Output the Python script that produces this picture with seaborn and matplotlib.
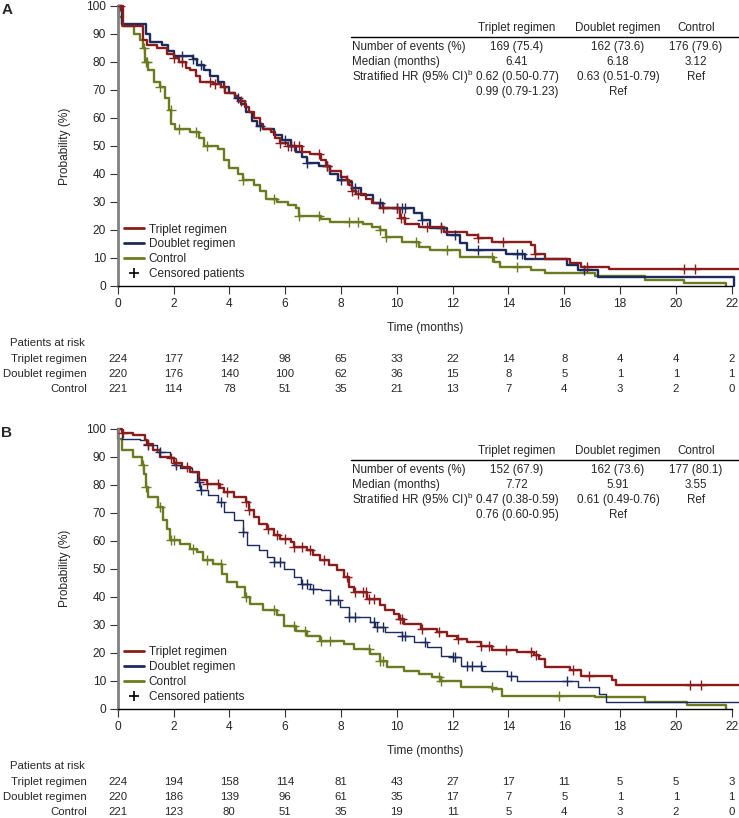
import numpy as np
import pandas as pd
import matplotlib
matplotlib.use('Agg')
import matplotlib.pyplot as plt
import seaborn as sns
from matplotlib.lines import Line2D
from matplotlib.transforms import blended_transform_factory

sns.set_style('ticks')
plt.rcParams['font.family'] = ['Liberation Sans', 'DejaVu Sans']
plt.rcParams['mathtext.fontset'] = 'custom'
plt.rcParams['mathtext.rm'] = 'Liberation Sans'

groups = ['Triplet regimen', 'Doublet regimen', 'Control']
colors = {'Triplet regimen': '#8a1c1c', 'Doublet regimen': '#1d2b5c', 'Control': '#6b7b20'}
risk_times = list(range(0, 23, 2))

# ---- Panel A: step curves (time in months, survival %)
a_trip_t = [0, 0.2, 0.92, 1.05, 1.4, 1.75, 2.0, 2.2, 2.45, 2.6, 2.8, 2.95, 3.4, 3.7, 3.85, 4.2, 4.3, 4.55, 4.7,
            4.9, 5.1, 5.2, 5.5, 5.65, 5.8, 6.1, 6.6, 6.9, 7.3, 7.45, 7.6, 8.0, 8.2, 8.3, 8.4, 8.55, 8.9, 9.1,
            9.39, 10.1, 10.3, 10.8, 11.7, 12.5, 12.9, 13.4, 14.8, 14.95, 15.3, 16.2, 16.6, 17.6, 22.25]
a_trip_s = [100, 93, 88, 86, 85, 83, 81.5, 80, 78, 77, 75, 73, 72, 71, 69, 68, 66, 64, 62,
            60, 58, 56, 55, 53, 51, 50, 48, 47, 45, 43, 41, 39, 38, 36, 34, 33, 31, 29.5,
            27.7, 24.2, 22.2, 21, 19.4, 18.2, 17, 15.8, 14.6, 11.6, 9.5, 8.1, 6.9, 5.9, 5.9]
a_doub_t = [0, 0.15, 1.0, 1.15, 1.6, 1.8, 2.0, 2.7, 2.85, 3.1, 3.3, 3.6, 3.8, 4.0, 4.2, 4.4, 4.6, 4.8, 5.0,
            5.2, 5.6, 5.9, 6.2, 6.4, 6.6, 6.8, 7.2, 7.6, 7.9, 8.3, 8.4, 8.7, 9.15, 9.5, 10.6, 10.9, 11.2,
            11.8, 12.25, 12.5, 13.9, 14.6, 16.1, 16.5, 17.2, 22.1]
a_doub_s = [100, 93.5, 90, 87, 86, 84, 82, 81, 79, 77, 75, 73, 71, 69, 67, 65, 62, 59, 57,
            56, 54, 52, 50, 48, 46, 44, 43, 40, 38, 37, 35, 32.5, 29.5, 27.7, 26, 23.6, 20.6,
            18.2, 15.2, 12.9, 11.6, 9.5, 7.5, 5.7, 3.1, 0]
a_ctrl_t = [0, 0.03, 0.15, 0.6, 0.8, 0.9, 0.97, 1.1, 1.3, 1.5, 1.7, 1.85, 1.92, 2.05, 2.6, 2.9, 3.1, 3.6, 3.8,
            4.0, 4.3, 4.5, 4.9, 5.1, 5.3, 5.7, 6.1, 6.4, 6.5, 7.3, 7.6, 8.8, 9.1, 9.4, 9.6, 10.2, 10.8,
            11.2, 12.25, 13.5, 13.7, 14.8, 15.3, 17.1, 18.9, 20.3, 21.8]
a_ctrl_s = [100, 96, 93, 90, 88, 85, 80, 77, 73, 71, 67, 63, 58, 56, 55, 53, 50, 49, 45,
            42, 40, 38, 36, 34, 31, 30, 29, 28, 25, 24, 23, 22, 21, 20, 17.4, 15.8, 14.1,
            12.9, 10.5, 8.7, 6.9, 5.7, 4.5, 3.6, 2.2, 1.2, 0]

# censoring times (months)
a_trip_c = [0.1, 2.0, 2.3, 3.3, 3.5, 3.8, 4.4, 5.8, 6.1, 6.3, 6.5, 7.2, 7.5, 8.2, 8.4, 8.6, 9.5, 10.0,
            10.15, 10.25, 11.1, 11.6, 12.9, 13.8, 14.95, 16.8, 20.3, 20.7]
a_doub_c = [2.3, 2.7, 3.0, 4.3, 5.1, 6.0, 6.2, 6.8, 7.5, 8.0, 8.5, 9.4, 10.0, 10.2, 10.3, 10.9, 11.6,
            12.1, 12.9, 14.3, 14.5, 16.7]
a_ctrl_c = [0.95, 1.0, 1.05, 1.5, 1.9, 2.2, 2.8, 3.2, 4.5, 5.6, 6.5, 7.2, 8.3, 8.6, 9.4, 9.6, 10.7,
            11.8, 13.4, 14.3]

a_risk = {'Triplet regimen': [224, 177, 142, 98, 65, 33, 22, 14, 8, 4, 4, 2],
          'Doublet regimen': [220, 176, 140, 100, 62, 36, 15, 8, 5, 1, 1, 1],
          'Control': [221, 114, 78, 51, 35, 21, 13, 7, 4, 3, 2, 0]}
a_events = ['169 (75.4)', '162 (73.6)', '176 (79.6)']
a_median = ['6.41', '6.18', '3.12']
a_hr1 = ['0.62 (0.50-0.77)', '0.63 (0.51-0.79)', 'Ref']
a_hr2 = ['0.99 (0.79-1.23)', 'Ref', '']

# ---- Panel B
b_trip_t = [0, 0.14, 0.56, 0.98, 1.04, 1.28, 1.52, 1.88, 2.0, 2.3, 2.6, 2.9, 3.2, 3.67, 3.8, 4.15, 4.6, 4.7,
            4.87, 5.05, 5.35, 5.6, 5.8, 6.2, 6.3, 6.8, 7.0, 7.26, 7.56, 7.86, 8.1, 8.28, 8.46, 8.94, 9.41,
            9.59, 9.89, 10.07, 10.25, 10.85, 11.45, 11.8, 12.16, 12.52, 13.0, 13.42, 14.3, 14.9, 15.1,
            15.3, 16.2, 16.6, 17.7, 17.85, 22.25]
b_trip_s = [100, 98.3, 97.7, 96, 94.7, 92.4, 90, 89.4, 87.6, 86.4, 84.6, 81.6, 80.4, 79, 77.5, 75.7, 73.9, 70.9,
            68.5, 66.1, 64.3, 62, 60.7, 59.5, 57.7, 56.6, 54.8, 53, 51.2, 49.4, 47, 43.5, 41.7, 39.2, 36.9,
            35.1, 33.9, 32.1, 30.3, 28.5, 27.3, 26.1, 24.9, 23.7, 22.5, 20.9, 20.1, 19.3, 17.7,
            14.8, 13.8, 11.8, 10.4, 8.6, 8.6]
b_doub_t = [0, 0.14, 0.8, 1.04, 1.4, 1.88, 2.0, 2.24, 2.66, 2.84, 2.95, 3.25, 3.6, 3.8, 4.15, 4.5, 4.63, 5.05,
            5.35, 5.6, 5.95, 6.3, 6.55, 6.9, 7.3, 7.6, 7.98, 8.28, 9.05, 9.23, 9.59, 10.19, 10.6, 11.1,
            11.6, 12.0, 12.3, 13.06, 13.96, 14.3, 16.5, 17.25, 17.5, 22.25]
b_doub_s = [100, 96.5, 95.9, 94.2, 91.8, 90, 87, 85.8, 84.6, 81, 78, 76.3, 73.9, 70.3, 67.3, 63.1, 58.4, 56.6,
            54.2, 52.4, 50, 47, 44.7, 42.9, 42.3, 38.7, 36.3, 32.7, 30.9, 29.1, 27.3, 26.1, 23.7, 21.9,
            18.9, 18.3, 15.3, 13.6, 11.8, 10, 7.6, 5.2, 2.3, 2.3]
b_ctrl_t = [0, 0.02, 0.14, 0.56, 0.86, 0.95, 1.0, 1.1, 1.46, 1.64, 1.76, 1.88, 2.24, 2.6, 2.84, 3.07, 3.43,
            3.73, 3.9, 4.27, 4.57, 4.75, 5.2, 5.7, 5.95, 6.4, 6.78, 7.26, 8.1, 8.46, 9.05, 9.4, 9.65,
            10.25, 10.78, 11.27, 11.6, 12.3, 13.42, 13.78, 17.1, 18.9, 20.4, 21.8]
b_ctrl_s = [100, 96.5, 92.4, 90, 87, 84, 79.2, 75.7, 72.1, 67.3, 64.3, 60.1, 59, 57.2, 56, 53, 51.8,
            48.2, 45.2, 43.5, 39.9, 37.5, 35.1, 33.3, 29.7, 27.9, 26.1, 24.3, 23.1, 21.4, 19.6, 17.2, 14.8,
            13.6, 12.4, 11.2, 10, 7.9, 7, 4.7, 4.1, 2.3, 1.3, 0]

b_trip_c = [0.2, 1.1, 1.9, 2.1, 2.5, 3.2, 3.6, 3.9, 4.6, 4.7, 5.4, 5.7, 6.0, 6.3, 6.6, 6.9, 7.4, 8.2,
            8.5, 8.8, 8.9, 9.0, 9.2, 10.1, 10.2, 10.9, 11.5, 12.2, 13.0, 13.3, 13.9, 14.8, 15.0, 16.3,
            16.9, 20.5, 20.9]
b_doub_c = [1.1, 1.5, 2.1, 2.9, 3.0, 3.7, 4.5, 5.6, 5.8, 6.6, 6.8, 7.0, 7.6, 7.9, 8.3, 8.5, 9.2, 9.3,
            9.5, 10.2, 10.3, 11.0, 12.0, 12.1, 12.5, 12.7, 13.0, 14.1, 16.1]
b_ctrl_c = [0.9, 1.0, 1.5, 1.9, 2.0, 2.7, 3.2, 3.7, 4.6, 5.6, 6.3, 6.7, 7.3, 7.6, 9.0, 9.4, 9.5,
            11.5, 11.6, 13.4, 15.8]

b_risk = {'Triplet regimen': [224, 194, 158, 114, 81, 43, 27, 17, 11, 5, 5, 3],
          'Doublet regimen': [220, 186, 139, 96, 61, 35, 17, 7, 5, 1, 1, 1],
          'Control': [221, 123, 80, 51, 35, 19, 11, 5, 4, 3, 2, 0]}
b_events = ['152 (67.9)', '162 (73.6)', '177 (80.1)']
b_median = ['7.72', '5.91', '3.55']
b_hr1 = ['0.47 (0.38-0.59)', '0.61 (0.49-0.76)', 'Ref']
b_hr2 = ['0.76 (0.60-0.95)', 'Ref', '']

W, H = 739, 818
fig = plt.figure(figsize=(W / 100, H / 100), dpi=100)


def fy(p):
    return 1 - p / H


def step_value(t, s, x):
    i = np.searchsorted(t, x, side='right') - 1
    return np.asarray(s)[i]


def draw_panel(top_px, letter, curves, censors, risk, table, lws):
    bottom_px = top_px + 280
    ax = fig.add_axes([117.7 / W, fy(bottom_px), 614 / W, 280 / H])
    for g in ['Control', 'Doublet regimen', 'Triplet regimen']:
        t, s = curves[g]
        df = pd.DataFrame({'Time': t, 'Prob': s})
        sns.lineplot(data=df, x='Time', y='Prob', ax=ax, color=colors[g], lw=lws[g],
                     drawstyle='steps-post', estimator=None, sort=False, clip_on=False, legend=False)
        ct = np.array(censors[g])
        cdf = pd.DataFrame({'Time': ct, 'Prob': step_value(np.array(t), s, ct)})
        sns.scatterplot(data=cdf, x='Time', y='Prob', ax=ax, marker='+', s=45, color=colors[g],
                        linewidth=1.0, legend=False, zorder=3)

    ax.set_xlim(0, 22)
    ax.set_ylim(0, 100)
    ax.set_xticks(risk_times)
    ax.set_yticks(range(0, 101, 10))
    sns.despine(ax=ax)
    ax.spines['left'].set_color('#808080')
    ax.spines['left'].set_linewidth(2)
    ax.spines['bottom'].set_linewidth(1)
    ax.spines['bottom'].set_color('black')
    ax.tick_params(length=5.5, width=0.8, labelsize=8.6, pad=3, color='#333333')
    ax.set_ylabel('Probability (%)', fontsize=8.6)
    ax.yaxis.set_label_coords(-0.076, 0.5)
    ax.set_xlabel('Time (months)', fontsize=8.6)
    ax.xaxis.set_label_coords(0.5, -0.13)

    handles = [Line2D([], [], color=colors[g], lw=2) for g in groups]
    handles.append(Line2D([], [], color='black', marker='+', ls='none', markersize=7, mew=1.2))
    ax.legend(handles, groups + ['Censored patients'], loc='lower left', bbox_to_anchor=(0.01, 0.02),
              frameon=False, fontsize=8.5, handlelength=1.7, handletextpad=0.4, labelspacing=0.25,
              borderpad=0, borderaxespad=0)

    fig.text(6.7 / W, fy(top_px + 4.5), letter, fontsize=11, fontweight='bold', ha='center', va='center')

    # summary table
    cols = [517, 618, 696]
    hy = top_px + 22
    for g, cx in zip(groups, cols):
        fig.text(cx / W, fy(hy), g, fontsize=8.4, ha='center', va='center')
    fig.add_artist(Line2D([351 / W, 1], [fy(top_px + 31)] * 2, color='black', lw=1))
    events, median, hr1, hr2 = table
    row_labels = ['Number of events (%)', 'Median (months)', 'Stratified HR (95% CI)$^{\\mathrm{b}}$', '']
    for k, (lab, vals) in enumerate(zip(row_labels, [events, median, hr1, hr2])):
        yy = fy(top_px + 41 + 15 * k)
        if lab:
            fig.text(351.7 / W, yy, lab, fontsize=8.4, ha='left', va='center')
        for v, cx in zip(vals, cols):
            fig.text(cx / W, yy, v, fontsize=8.4, ha='center', va='center')

    # patients at risk
    tr = blended_transform_factory(ax.transData, fig.transFigure)
    fig.text(10 / W, fy(bottom_px + 57), 'Patients at risk', fontsize=8.2, ha='left', va='center')
    for k, g in enumerate(groups):
        yy = fy(bottom_px + 73 + 15 * k)
        fig.text(87 / W, yy, g, fontsize=8.2, ha='right', va='center')
        for x, n in zip(risk_times, risk[g]):
            ax.text(x, yy, str(n), transform=tr, fontsize=8.2, ha='center', va='center', clip_on=False)
    return ax


draw_panel(6, 'A',
           {'Triplet regimen': (a_trip_t, a_trip_s), 'Doublet regimen': (a_doub_t, a_doub_s),
            'Control': (a_ctrl_t, a_ctrl_s)},
           {'Triplet regimen': a_trip_c, 'Doublet regimen': a_doub_c, 'Control': a_ctrl_c},
           a_risk, (a_events, a_median, a_hr1, a_hr2),
           {'Triplet regimen': 1.7, 'Doublet regimen': 1.7, 'Control': 1.7})

draw_panel(428.7, 'B',
           {'Triplet regimen': (b_trip_t, b_trip_s), 'Doublet regimen': (b_doub_t, b_doub_s),
            'Control': (b_ctrl_t, b_ctrl_s)},
           {'Triplet regimen': b_trip_c, 'Doublet regimen': b_doub_c, 'Control': b_ctrl_c},
           b_risk, (b_events, b_median, b_hr1, b_hr2),
           {'Triplet regimen': 1.7, 'Doublet regimen': 1.0, 'Control': 1.7})

fig.savefig('out.png', dpi=100)
